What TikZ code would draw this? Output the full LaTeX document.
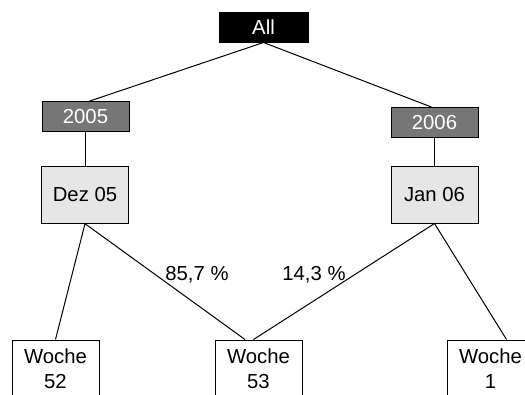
\documentclass[tikz,border=0pt]{standalone}
\usepackage{fontspec}
\setmainfont{Liberation Sans}
\begin{document}
\begin{tikzpicture}[x=1pt,y=-1pt,
  every node/.style={font=\fontsize{20.3}{25}\selectfont},
  allbox/.style={draw=black, fill=black, text=white, minimum width=89pt, minimum height=30pt, inner sep=0pt, line width=1pt},
  yearbox/.style={draw=black, fill=yeargray, text=white, minimum width=87pt, minimum height=29.5pt, inner sep=0pt, line width=1pt},
  monthbox/.style={draw=black, fill=monthgray, minimum width=87pt, minimum height=57pt, inner sep=0pt, line width=1pt},
  weekbox/.style={draw=black, fill=white, minimum width=87pt, anchor=north, align=center, inner xsep=0pt, inner ysep=8.5pt, line width=1pt},
  conn/.style={draw=black, line width=1pt},
  pct/.style={anchor=base, inner sep=0pt}
]
\definecolor{yeargray}{HTML}{767676}
\definecolor{monthgray}{HTML}{E6E6E6}
\useasboundingbox (0,0) rectangle (525,394);
\fill[white] (0,0) rectangle (525,394);

\node[allbox] (all) at (263.5,27) {All};
\node[yearbox] (y05) at (85.5,116.7) {2005};
\node[yearbox] (y06) at (434.5,122.3) {2006};
\node[monthbox] (dez) at (85,194.7) {Dez 05};
\node[monthbox] (jan) at (434.5,194.5) {Jan 06};
\node[weekbox] (w52) at (55.5,339.5) {Woche\\52};
\node[weekbox] (w53) at (258.5,339.5) {Woche\\53};
\node[weekbox] (w1) at (490.5,339.5) {Woche\\1};

\coordinate (a05) at ([xshift=3pt]y05.north);
\coordinate (a06) at ([xshift=-3pt]y06.north);
\coordinate (w53l) at ([xshift=-13.5pt]w53.north);
\coordinate (w53r) at ([xshift=-5pt]w53.north);
\coordinate (w1t) at ([xshift=16pt]w1.north);

\draw[conn] (all.south) -- (a05);
\draw[conn] (all.south) -- (a06);
\draw[conn] (y05.south) -- (y05.south |- dez.north);
\draw[conn] (y06.south) -- (y06.south |- jan.north);
\draw[conn] (dez.south) -- (w52.north);
\draw[conn] (dez.south) -- (w53l);
\draw[conn] (jan.south) -- (w53r);
\draw[conn] (jan.south) -- (w1t);

\node[pct] (p1) at (197,280) {85,7 \%};
\node[pct] (p2) at (314,280) {14,3 \%};
\end{tikzpicture}
\end{document}
